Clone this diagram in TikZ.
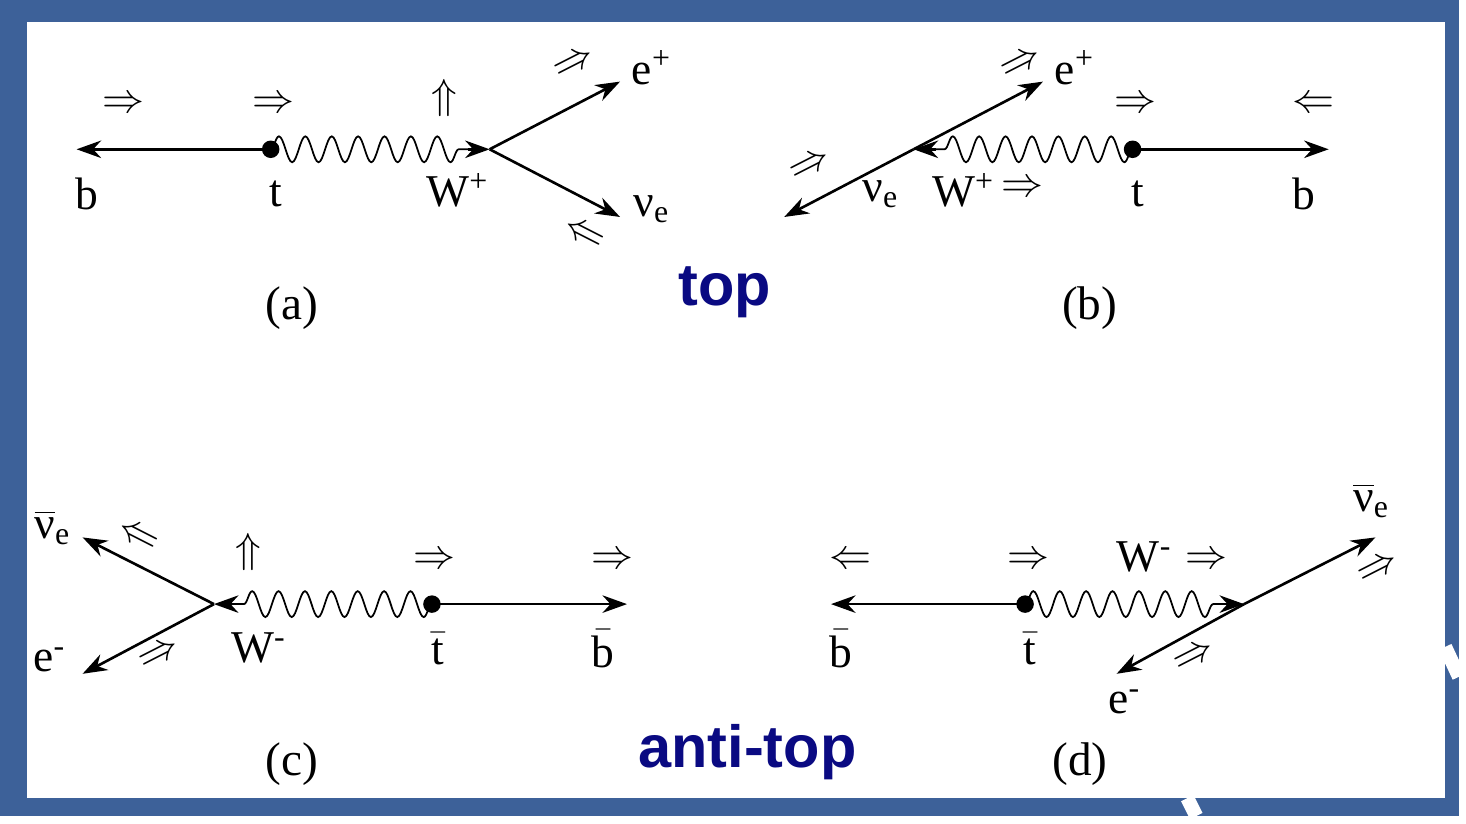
\documentclass[tikz,border=0pt]{standalone}
\usepackage{fontspec}
\setmainfont{Liberation Serif}
\newfontfamily\headfont{Liberation Sans}
\usetikzlibrary{arrows.meta,decorations.pathmorphing}
\definecolor{slideblue}{RGB}{61,97,153}
\definecolor{headblue}{RGB}{10,10,130}
\begin{document}
\begin{tikzpicture}[
    x=0.01cm, y=-0.01cm,
    fermion/.style={line width=0.75pt, -{Stealth[length=7pt,width=5pt]}},
    boson/.style={line width=0.5pt, decorate, decoration={snake, segment length=0.265cm, amplitude=0.13cm}},
    lbl/.style={font=\fontsize{13}{15}\selectfont, inner sep=0pt},
    spin/.style={font=\fontsize{12}{14}\selectfont, inner sep=0pt},
    caption/.style={font=\fontsize{13.5}{16}\selectfont, inner sep=0pt},
    head/.style={font=\headfont\bfseries\fontsize{17}{20}\selectfont, text=headblue, inner sep=0pt},
    dot/.style={circle, fill, inner sep=0pt, minimum size=5pt}
]
% Background
\fill[slideblue] (0,0) rectangle (1466,820);
\fill[white] (27,22) rectangle (1452,802);
\draw[white, line width=4pt] (1193,802) -- (1202,820);
\draw[white, line width=4pt] (1452,650) -- (1466,680);

% (a) top
\coordinate (va) at (492,150);
\coordinate (wa) at (470,150);
\coordinate (ba) at (77,150);
\coordinate (ea) at (623,82);
\coordinate (na) at (623,218);
\node[dot] (ta) at (272,150) {};
\draw[fermion] (ta.center) -- (ba);
\draw[boson] (ta.center) -- (wa);
\draw[fermion] (wa) -- (va);
\draw[fermion] (va) -- (ea);
\draw[fermion] (va) -- (na);
\node[lbl] (lba) at (87,195) {b};
\node[lbl] (lta) at (277,195) {t};
\node[lbl] (lwa) at (460,191) {W\textsuperscript{+}};
\node[lbl] (lea) at (655,68) {e\textsuperscript{+}};
\node[lbl] (lna) at (655,210) {ν\textsubscript{e}};
\node[spin] (sba) at (124,105) {$\Rightarrow$};
\node[spin] (sta) at (275,105) {$\Rightarrow$};
\node[spin] (swa) at (446,98) {$\Uparrow$};
\node[spin, rotate=27] (sea) at (577,64) {$\Rightarrow$};
\node[spin, rotate=-27] (sna) at (587,236) {$\Leftarrow$};
\node[caption] (capa) at (293,310) {(a)};

% (b) top
\coordinate (vb) at (918,150);
\coordinate (wb) at (940,150);
\coordinate (eb) at (1048,82);
\coordinate (nb) at (788,218);
\coordinate (bb) at (1335,150);
\node[dot] (tb) at (1138,150) {};
\draw[fermion] (tb.center) -- (bb);
\draw[boson] (tb.center) -- (wb);
\draw[fermion] (wb) -- (vb);
\draw[fermion] (vb) -- (eb);
\draw[fermion] (vb) -- (nb);
\node[lbl] (lnb) at (885,195) {ν\textsubscript{e}};
\node[lbl] (lwb) at (968,191) {W\textsuperscript{+}};
\node[spin] (swb) at (1027,190) {$\Rightarrow$};
\node[lbl] (ltb) at (1143,195) {t};
\node[lbl] (lbb) at (1310,195) {b};
\node[lbl] (leb) at (1080,68) {e\textsuperscript{+}};
\node[spin, rotate=27] (seb) at (1027,64) {$\Rightarrow$};
\node[spin, rotate=27] (snb) at (815,167) {$\Rightarrow$};
\node[spin] (stb) at (1141,105) {$\Rightarrow$};
\node[spin] (sbb) at (1320,105) {$\Leftarrow$};
\node[caption] (capb) at (1095,310) {(b)};
\node[head] (top) at (728,294) {top};

% (c) anti-top
\coordinate (vc) at (215,607);
\coordinate (wc) at (237,607);
\coordinate (nc) at (83,540);
\coordinate (ec) at (83,677);
\coordinate (bc) at (630,607);
\node[dot] (tc) at (434,607) {};
\draw[fermion] (tc.center) -- (bc);
\draw[boson] (tc.center) -- (wc);
\draw[fermion] (wc) -- (vc);
\draw[fermion] (vc) -- (nc);
\draw[fermion] (vc) -- (ec);
\node[lbl] (lnc) at (53,530) {$\overline{\mbox{ν}}$\textsubscript{e}};
\node[lbl] (lec) at (50,663) {e\textsuperscript{-}};
\node[lbl] (lwc) at (260,651) {W\textsuperscript{-}};
\node[lbl] (ltc) at (440,652) {$\bar{\mbox{t}}$};
\node[lbl] (lbc) at (606,652) {$\bar{\mbox{b}}$};
\node[spin, rotate=-27] (snc) at (138,540) {$\Leftarrow$};
\node[spin, rotate=27] (sec) at (160,658) {$\Rightarrow$};
\node[spin] (swc) at (250,555) {$\Uparrow$};
\node[spin] (stc) at (437,563) {$\Rightarrow$};
\node[spin] (sbc) at (615,563) {$\Rightarrow$};
\node[caption] (capc) at (293,768) {(c)};

% (d) anti-top
\coordinate (vd) at (1250,607);
\coordinate (wd) at (1225,607);
\coordinate (nd) at (1382,540);
\coordinate (ed) at (1122,677);
\coordinate (bd) at (835,607);
\node[dot] (td) at (1030,607) {};
\draw[fermion] (td.center) -- (bd);
\draw[boson] (td.center) -- (wd);
\draw[fermion] (wd) -- (vd);
\draw[fermion] (vd) -- (nd);
\draw[fermion] (vd) -- (ed);
\node[lbl] (lbd) at (845,652) {$\bar{\mbox{b}}$};
\node[lbl] (ltd) at (1035,652) {$\bar{\mbox{t}}$};
\node[lbl] (lwd) at (1150,560) {W\textsuperscript{-}};
\node[lbl] (lnd) at (1378,503) {$\overline{\mbox{ν}}$\textsubscript{e}};
\node[lbl] (led) at (1130,705) {e\textsuperscript{-}};
\node[spin] (sbd) at (855,563) {$\Leftarrow$};
\node[spin] (std) at (1033,563) {$\Rightarrow$};
\node[spin] (swd) at (1212,563) {$\Rightarrow$};
\node[spin, rotate=27] (snd) at (1385,572) {$\Rightarrow$};
\node[spin, rotate=27] (sed) at (1200,660) {$\Rightarrow$};
\node[caption] (capd) at (1085,768) {(d)};
\node[head] (antitop) at (751,756) {anti-top};
\end{tikzpicture}
\end{document}
